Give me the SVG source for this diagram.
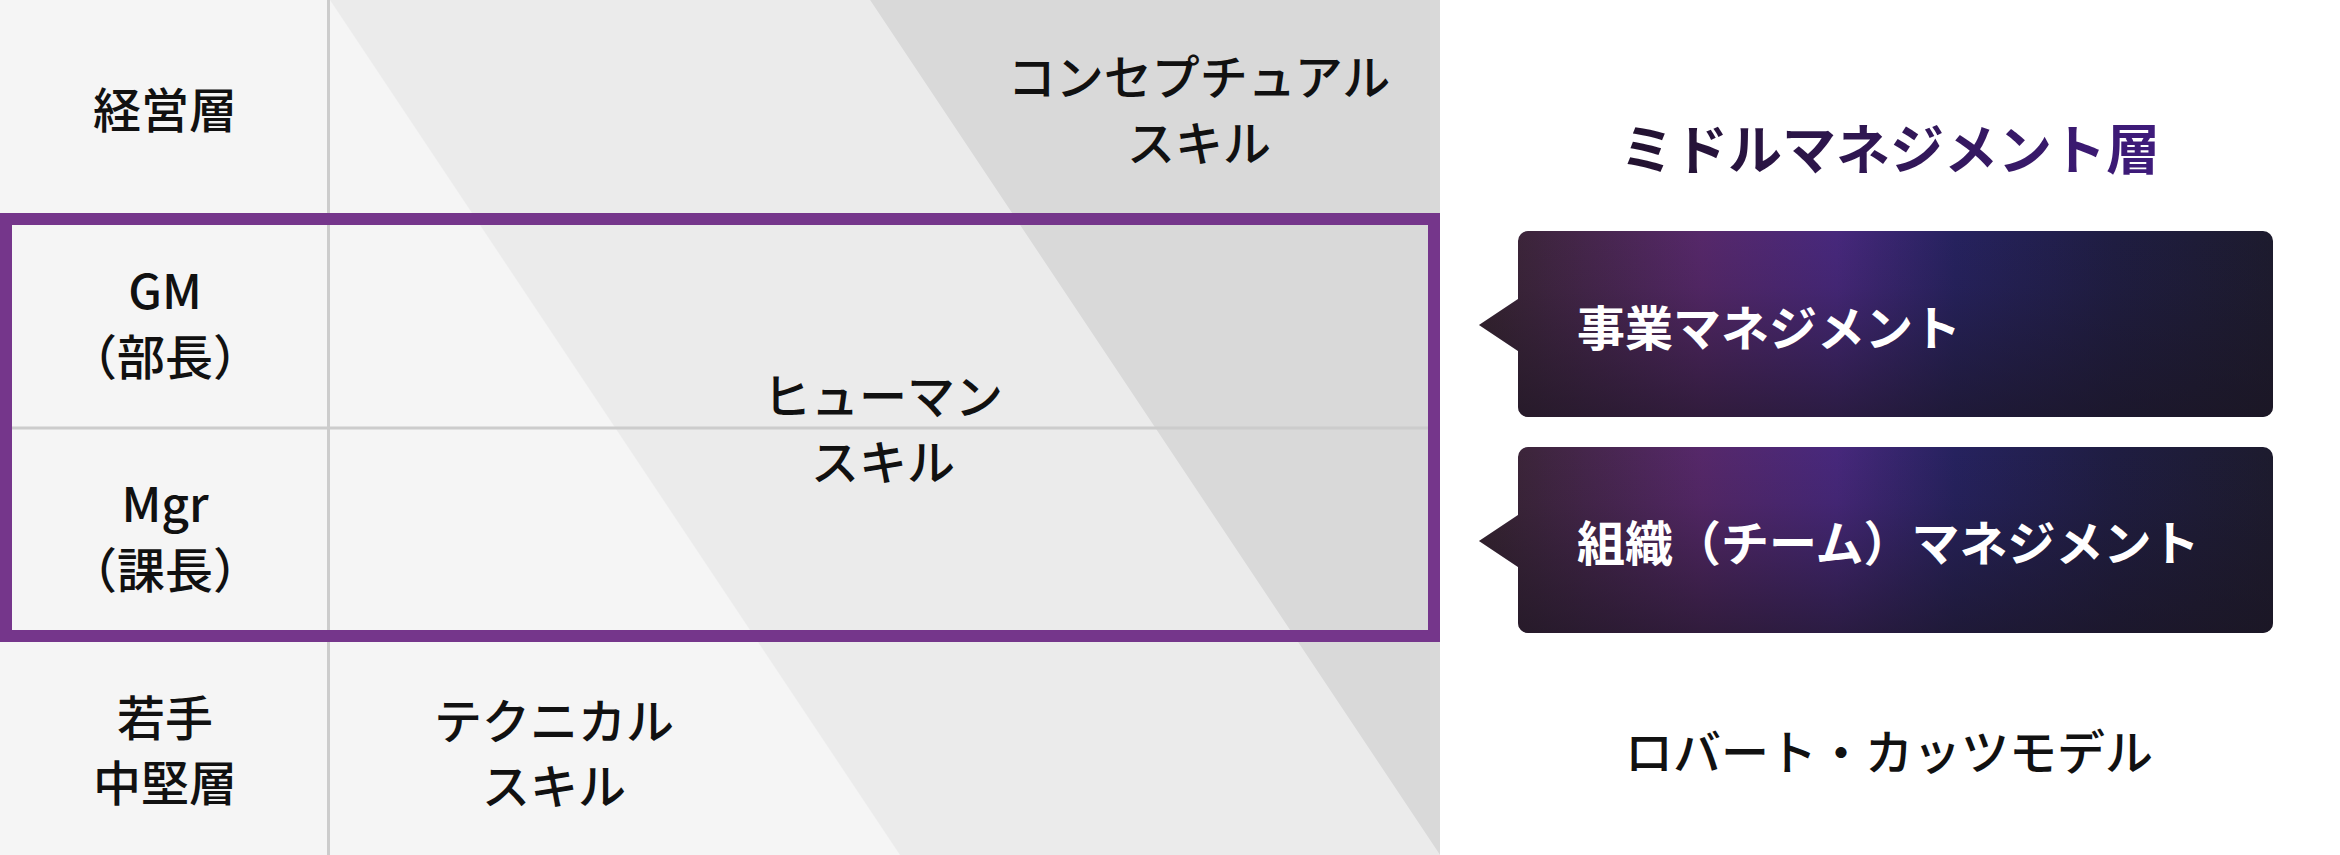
<svg xmlns="http://www.w3.org/2000/svg" width="2340" height="855" viewBox="0 0 2340 855">
  <defs>
    <linearGradient id="boxBase" x1="0" y1="0" x2="1" y2="0">
      <stop offset="0" stop-color="#36242f"/>
      <stop offset="0.28" stop-color="#56286a"/>
      <stop offset="0.45" stop-color="#47287c"/>
      <stop offset="0.6" stop-color="#26225f"/>
      <stop offset="0.8" stop-color="#1f1d42"/>
      <stop offset="1" stop-color="#1d1b2e"/>
    </linearGradient>
    <linearGradient id="boxShade" x1="0" y1="0" x2="0" y2="1">
      <stop offset="0" stop-color="#1a1420" stop-opacity="0"/>
      <stop offset="0.3" stop-color="#1a1420" stop-opacity="0.1"/>
      <stop offset="1" stop-color="#1a1420" stop-opacity="0.62"/>
    </linearGradient>
    <linearGradient id="titleGrad" x1="0" y1="0" x2="1" y2="0">
      <stop offset="0" stop-color="#22122e"/>
      <stop offset="1" stop-color="#3f1b7c"/>
    </linearGradient>
    <style>
      .lbl { font-family: "Noto Sans CJK JP", "Noto Sans", sans-serif; font-size: 48px; font-weight: 500; fill: #111111; text-anchor: middle; }
      .boxtxt { font-family: "Noto Sans CJK JP", "Noto Sans", sans-serif; font-size: 48px; font-weight: 700; fill: #ffffff; }
      .title { font-family: "Noto Sans CJK JP", "Noto Sans", sans-serif; font-size: 54px; font-weight: 700; fill: url(#titleGrad); text-anchor: middle; }
      .grid { stroke: #cccccc; stroke-width: 3; fill: none; }
      .frame { stroke: #75368b; stroke-width: 12; fill: none; }
    </style>
  </defs>

  <rect x="0" y="0" width="2340" height="855" fill="#ffffff"/>

  <g id="table-background">
    <rect x="0" y="0" width="1440" height="855" fill="#f5f5f5"/>
    <polygon points="330,0 870,0 1440,855 900,855" fill="#ebebeb"/>
    <polygon points="870,0 1440,0 1440,855" fill="#d9d9d9"/>
  </g>

  <g id="connectors">
    <line class="grid" x1="328.5" y1="0" x2="328.5" y2="855"/>
    <line class="grid" x1="0" y1="428" x2="1440" y2="428"/>
  </g>

  <g id="middle-frame">
    <rect class="frame" x="6" y="219" width="1428" height="417"/>
  </g>

  <g id="row-executive">
    <text class="lbl" x="165" y="128">経営層</text>
  </g>
  <g id="row-gm">
    <text class="lbl" x="165" y="309">GM</text>
    <text class="lbl" x="165" y="375">（部長）</text>
  </g>
  <g id="row-mgr">
    <text class="lbl" x="165" y="522">Mgr</text>
    <text class="lbl" x="165" y="588">（課長）</text>
  </g>
  <g id="row-junior">
    <text class="lbl" x="165" y="736">若手</text>
    <text class="lbl" x="165" y="801">中堅層</text>
  </g>

  <g id="skill-conceptual">
    <text class="lbl" x="1199" y="95">コンセプチュアル</text>
    <text class="lbl" x="1199" y="161">スキル</text>
  </g>
  <g id="skill-human">
    <text class="lbl" x="883" y="414">ヒューマン</text>
    <text class="lbl" x="883" y="480">スキル</text>
  </g>
  <g id="skill-technical">
    <text class="lbl" x="554" y="739">テクニカル</text>
    <text class="lbl" x="554" y="804">スキル</text>
  </g>

  <g id="title">
    <text class="title" x="1890" y="170">ミドルマネジメント層</text>
  </g>

  <g id="box-business">
    <path d="M1528,231 H2263 A10,10 0 0 1 2273,241 V407 A10,10 0 0 1 2263,417 H1528 A10,10 0 0 1 1518,407 V351 L1479,325 L1518,299 V241 A10,10 0 0 1 1528,231 Z" fill="url(#boxBase)"/>
    <path d="M1528,231 H2263 A10,10 0 0 1 2273,241 V407 A10,10 0 0 1 2263,417 H1528 A10,10 0 0 1 1518,407 V351 L1479,325 L1518,299 V241 A10,10 0 0 1 1528,231 Z" fill="url(#boxShade)"/>
    <text class="boxtxt" x="1577" y="346">事業マネジメント</text>
  </g>

  <g id="box-organization">
    <path d="M1528,447 H2263 A10,10 0 0 1 2273,457 V623 A10,10 0 0 1 2263,633 H1528 A10,10 0 0 1 1518,623 V567 L1479,541 L1518,515 V457 A10,10 0 0 1 1528,447 Z" fill="url(#boxBase)"/>
    <path d="M1528,447 H2263 A10,10 0 0 1 2273,457 V623 A10,10 0 0 1 2263,633 H1528 A10,10 0 0 1 1518,623 V567 L1479,541 L1518,515 V457 A10,10 0 0 1 1528,447 Z" fill="url(#boxShade)"/>
    <text class="boxtxt" x="1577" y="561">組織（チーム）マネジメント</text>
  </g>

  <g id="caption">
    <text class="lbl" x="1889" y="770">ロバート・カッツモデル</text>
  </g>
</svg>
